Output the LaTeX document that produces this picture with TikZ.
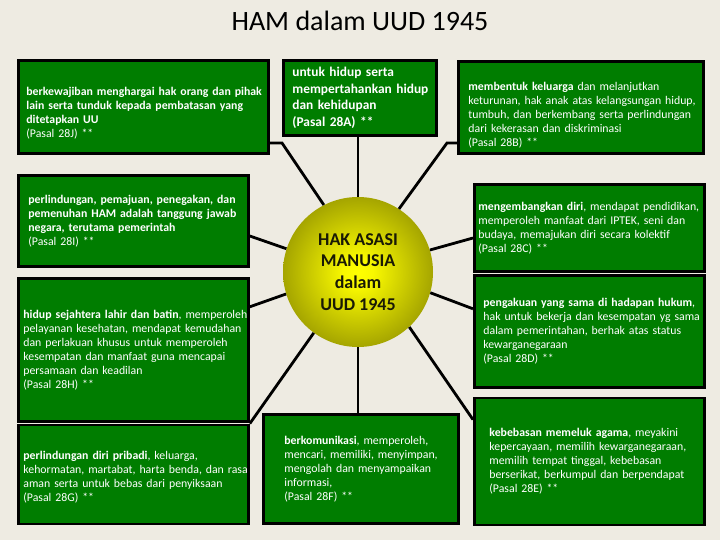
\documentclass[tikz,border=0pt]{standalone}
\usepackage{fontspec}
\setmainfont{Carlito}
\usetikzlibrary{positioning}
\definecolor{pageBg}{RGB}{238,235,226}
\definecolor{boxGreen}{RGB}{0,125,0}
\definecolor{hubYellow}{RGB}{255,255,0}
\definecolor{hubOlive}{RGB}{165,165,0}
\definecolor{hubText}{RGB}{25,25,5}
\pgfdeclareradialshading{hubGlow}{\pgfpoint{0bp}{0bp}}{color(0bp)=(hubYellow); color(5bp)=(hubYellow!92!hubOlive); color(25bp)=(hubOlive); color(50bp)=(hubOlive)}

\begin{document}
\begin{tikzpicture}[
    x=1pt, y=-1pt,
    font=\fontsize{11.8}{14}\selectfont,
    hamBox/.style={draw=black, fill=boxGreen, text=white, line width=2.8pt, anchor=north west, align=left, inner sep=0pt},
    textPad/.style={execute at begin node={\leftskip=#1\relax}},
    textLow/.style={execute at end node={\endgraf\vspace{-#1}}},
    spokeLine/.style={draw=black, line width=2.8pt},
    hubCircle/.style={circle, shading=hubGlow, inner sep=0pt, minimum size=150pt, align=center, text=hubText, font=\fontsize{18}{21.7}\selectfont\bfseries}
]

    \useasboundingbox[fill=pageBg] (0,0) rectangle (720,540);

    % Title
    \node[font=\fontsize{28}{32}\selectfont] (title) at (360,21) {HAM dalam UUD 1945};

    % Centre
    \node[hubCircle] (ham) at (358,272) {HAK ASASI\\ MANUSIA\\ dalam\\ UUD 1945};

    % Top row
    \node[hamBox, textPad=8pt, textLow=12pt, text width=250pt, minimum height=93pt] (pasalJ) at (17,59) {
        \textbf{berkewajiban menghargai hak orang dan pihak\\ lain serta tunduk kepada pembatasan yang\\ ditetapkan UU}\\ (Pasal 28J) **
    };

    \node[hamBox, textPad=9pt, text width=153pt, minimum height=75pt, font=\fontsize{13.4}{16.6}\selectfont\bfseries] (pasalA) at (282,59) {
        untuk hidup serta\\ mempertahankan hidup\\ dan kehidupan\\ (Pasal 28A) **
    };

    \node[hamBox, textPad=10pt, textLow=16pt, text width=245pt, minimum height=92pt] (pasalB) at (457,60) {
        \textbf{membentuk keluarga} dan melanjutkan\\ keturunan, hak anak atas kelangsungan hidup,\\ tumbuh, dan berkembang serta perlindungan\\ dari kekerasan dan diskriminasi\\ (Pasal 28B) **
    };

    % Left column
    \node[hamBox, textPad=10pt, text width=230pt, minimum height=91pt] (pasalI) at (17,174) {
        \textbf{perlindungan, pemajuan, penegakan, dan\\ pemenuhan HAM adalah tanggung jawab\\ negara, terutama pemerintah}\\ (Pasal 28I) **
    };

    \node[hamBox, textPad=5pt, text width=230pt, minimum height=143pt, below=9pt of pasalI] (pasalH) {
        \textbf{hidup sejahtera lahir dan batin}, memperoleh\\ pelayanan kesehatan,  mendapat kemudahan\\ dan perlakuan khusus untuk memperoleh\\ kesempatan dan manfaat guna mencapai\\ persamaan dan keadilan\\ (Pasal 28H) **
    };

    \node[hamBox, textPad=5pt, textLow=6pt, text width=230pt, minimum height=99pt, below=1pt of pasalH] (pasalG) {
        \textbf{perlindungan diri pribadi}, keluarga,\\ kehormatan, martabat, harta benda, dan rasa\\ aman serta untuk bebas dari penyiksaan\\ (Pasal 28G) **
    };

    % Bottom middle
    \node[hamBox, textPad=21pt, text width=195pt, minimum height=109pt] (pasalF) at (262,413) {
        \textbf{berkomunikasi}, memperoleh,\\ mencari, memiliki, menyimpan,\\ mengolah dan menyampaikan\\ informasi,\\ (Pasal 28F) **
    };

    % Right column
    \node[hamBox, textPad=4pt, text width=230pt, minimum height=87pt] (pasalC) at (473,183) {
        \textbf{mengembangkan diri}, mendapat pendidikan,\\ memperoleh manfaat dari IPTEK, seni dan\\ budaya, memajukan diri secara kolektif\\ (Pasal 28C) **
    };

    \node[hamBox, textPad=9pt, text width=230pt, minimum height=112pt, below=1pt of pasalC] (pasalD) {
        \textbf{pengakuan yang sama di hadapan hukum},\\ hak untuk bekerja dan kesempatan yg sama\\ dalam pemerintahan, berhak atas status\\ kewarganegaraan\\ (Pasal 28D) **
    };

    \node[hamBox, textPad=15pt, text width=230pt, minimum height=127pt, below=8pt of pasalD] (pasalE) {
        \textbf{kebebasan memeluk agama}, meyakini\\ kepercayaan, memilih kewarganegaraan,\\ memilih tempat tinggal, kebebasan\\ berserikat, berkumpul dan berpendapat\\ (Pasal 28E) **
    };

    % Spokes
    \coordinate (bendJ) at (282,143);
    \coordinate (bendB) at (447,143);
    \draw[spokeLine] (ham.117) -- (bendJ) -- (bendJ -| pasalJ.east);
    \draw[spokeLine] (ham.north) -- (ham.north |- pasalA.south);
    \draw[spokeLine] (ham.57) -- (bendB) -- (bendB -| pasalB.west);
    \draw[spokeLine] (ham.162) -- ([yshift=-62pt]pasalI.north east);
    \draw[spokeLine] (ham.197) -- ([yshift=-30pt]pasalH.north east);
    \draw[spokeLine] (ham.234) -- (pasalG.north east);
    \draw[spokeLine] (ham.south) -- (ham.south |- pasalF.north);
    \draw[spokeLine] (ham.17) -- ([yshift=-55pt]pasalC.north west);
    \draw[spokeLine] (ham.344) -- ([yshift=-35pt]pasalD.north west);
    \draw[spokeLine] (ham.313) -- ([yshift=-23pt]pasalE.north west);

\end{tikzpicture}
\end{document}
